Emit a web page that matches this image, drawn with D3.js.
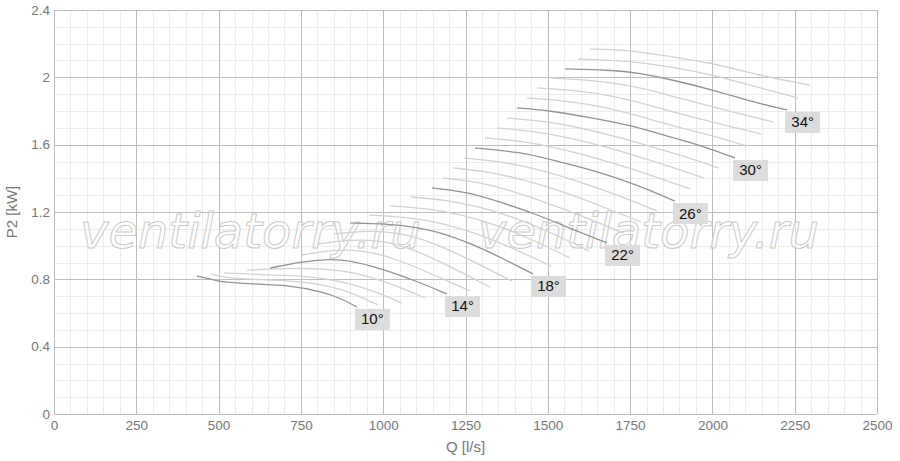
<!DOCTYPE html>
<html><head><meta charset="utf-8">
<script src="https://cdn.jsdelivr.net/npm/d3@7/dist/d3.min.js"></script>
<style>body{margin:0;background:#fff}svg{display:block}</style>
</head><body><svg id="c" width="900" height="461"></svg>
<script>
const xTicks = [0,250,500,750,1000,1250,1500,1750,2000,2250,2500];
const yTicks = [0,0.4,0.8,1.2,1.6,2,2.4];
const yTickLabels = ["0","0.4","0.8","1.2","1.6","2","2.4"];
const xTitle = "Q [l/s]";
const yTitle = "P2 [kW]";
const watermark = "ventilatorry.ru";
const labeledAngles = [10,14,18,22,26,30,34];

const a10 = [[434,0.82],[480,0.80],[510,0.784],[595,0.772],[717,0.766],[817,0.725],[869,0.689],[920,0.636]];
const a11 = [[477,0.832],[520,0.81],[600,0.80],[750,0.79],[870,0.75],[984,0.648]];
const a12 = [[516,0.838],[600,0.83],[700,0.825],[820,0.81],[950,0.75],[1057,0.659]];
const a13 = [[586,0.855],[700,0.865],[820,0.865],[920,0.84],[1030,0.77],[1127,0.689]];
const a14 = [[656,0.867],[750,0.905],[838,0.92],[890,0.915],[990,0.867],[1100,0.79],[1194,0.713]];
const a15 = [[753,0.945],[850,0.975],[930,0.975],[1030,0.93],[1150,0.83],[1264,0.731]];
const a16 = [[800,1.01],[900,1.035],[980,1.035],[1080,0.99],[1200,0.88],[1324,0.754]];
const a17 = [[850,1.07],[950,1.09],[1040,1.08],[1140,1.03],[1260,0.92],[1391,0.79]];
const a18 = [[900,1.135],[1000,1.13],[1051,1.123],[1151,1.093],[1255,1.022],[1355,0.933],[1455,0.832]];
const a19 = [[957,1.182],[1070,1.17],[1180,1.135],[1290,1.07],[1400,0.98],[1510,0.879]];
const a20 = [[1021,1.236],[1130,1.222],[1240,1.185],[1350,1.12],[1460,1.03],[1567,0.927]];
const a21 = [[1085,1.289],[1190,1.272],[1300,1.228],[1410,1.16],[1520,1.07],[1625,0.968]];
const a22 = [[1148,1.343],[1255,1.319],[1355,1.259],[1455,1.194],[1558,1.111],[1680,1.016]];
const a23 = [[1182,1.402],[1290,1.38],[1390,1.325],[1490,1.26],[1600,1.18],[1731,1.075]];
const a24 = [[1212,1.462],[1320,1.44],[1430,1.39],[1540,1.325],[1650,1.245],[1783,1.141]];
const a25 = [[1245,1.521],[1360,1.50],[1470,1.455],[1580,1.39],[1700,1.31],[1832,1.206]];
const a26 = [[1279,1.580],[1416,1.556],[1516,1.509],[1668,1.432],[1771,1.360],[1886,1.265]];
const a27 = [[1309,1.640],[1420,1.622],[1530,1.58],[1640,1.525],[1750,1.46],[1840,1.40],[1932,1.337]];
const a28 = [[1346,1.699],[1460,1.68],[1570,1.64],[1680,1.585],[1790,1.52],[1880,1.465],[1974,1.402]];
const a29 = [[1376,1.758],[1490,1.74],[1600,1.70],[1715,1.645],[1830,1.58],[1925,1.525],[2020,1.461]];
const a30 = [[1406,1.818],[1516,1.800],[1619,1.764],[1750,1.717],[1871,1.646],[1962,1.598],[2069,1.521]];
const a31 = [[1437,1.877],[1550,1.862],[1660,1.83],[1770,1.775],[1880,1.71],[1990,1.66],[2105,1.592]];
const a32 = [[1467,1.937],[1580,1.924],[1690,1.893],[1800,1.84],[1915,1.775],[2030,1.72],[2148,1.663]];
const a33 = [[1510,1.996],[1625,1.985],[1735,1.958],[1850,1.905],[1960,1.845],[2070,1.79],[2184,1.735]];
const a34 = [[1552,2.050],[1680,2.044],[1780,2.026],[1880,1.984],[2002,1.925],[2123,1.853],[2227,1.806]];
const a35 = [[1592,2.109],[1750,2.098],[1880,2.061],[2002,2.014],[2135,1.943],[2260,1.877]];
const a36 = [[1628,2.168],[1750,2.162],[1880,2.121],[2002,2.085],[2135,2.014],[2296,1.954]];

const curves = [
  {deg:10,pts:a10},{deg:11,pts:a11},{deg:12,pts:a12},{deg:13,pts:a13},{deg:14,pts:a14},
  {deg:15,pts:a15},{deg:16,pts:a16},{deg:17,pts:a17},{deg:18,pts:a18},{deg:19,pts:a19},
  {deg:20,pts:a20},{deg:21,pts:a21},{deg:22,pts:a22},{deg:23,pts:a23},{deg:24,pts:a24},
  {deg:25,pts:a25},{deg:26,pts:a26},{deg:27,pts:a27},{deg:28,pts:a28},{deg:29,pts:a29},
  {deg:30,pts:a30},{deg:31,pts:a31},{deg:32,pts:a32},{deg:33,pts:a33},{deg:34,pts:a34},
  {deg:35,pts:a35},{deg:36,pts:a36}
];

const L = 54, R = 877, T = 10, B = 414;
const x = d3.scaleLinear().domain([0,2500]).range([L,R]);
const y = d3.scaleLinear().domain([0,2.4]).range([B,T]);
const svg = d3.select("#c");

// minor grid
const g = svg.append("g");
g.selectAll("line.mx").data(d3.range(0,2501,50)).join("line")
  .attr("x1",d=>Math.round(x(d))+0.5).attr("x2",d=>Math.round(x(d))+0.5).attr("y1",T).attr("y2",B)
  .attr("stroke","#ececec").attr("stroke-width",1).attr("shape-rendering","crispEdges");
g.selectAll("line.my").data(d3.range(0,25).map(i=>i*0.1)).join("line")
  .attr("y1",d=>Math.round(y(d))+0.5).attr("y2",d=>Math.round(y(d))+0.5).attr("x1",L).attr("x2",R)
  .attr("stroke","#ececec").attr("stroke-width",1).attr("shape-rendering","crispEdges");
// major grid
g.selectAll("line.Mx").data(xTicks).join("line")
  .attr("x1",d=>Math.round(x(d))+0.5).attr("x2",d=>Math.round(x(d))+0.5).attr("y1",T).attr("y2",B)
  .attr("stroke","#bdbdbd").attr("stroke-width",1).attr("shape-rendering","crispEdges");
g.selectAll("line.My").data(yTicks).join("line")
  .attr("y1",d=>Math.round(y(d))+0.5).attr("y2",d=>Math.round(y(d))+0.5).attr("x1",L).attr("x2",R)
  .attr("stroke","#bdbdbd").attr("stroke-width",1).attr("shape-rendering","crispEdges");

// watermark
[80,478].forEach(px=>{
  svg.append("text").attr("x",px).attr("y",248).text(watermark)
    .attr("font-family","DejaVu Sans").attr("font-style","italic").attr("font-size",48)
    .attr("fill","#ffffff").attr("fill-opacity",0.55)
    .attr("stroke","#cbcbcb").attr("stroke-width",1);
});

// axes
const xAxis = d3.axisBottom(x).tickValues(xTicks).tickSize(0).tickPadding(6).tickFormat(d3.format("d"));
const yAxis = d3.axisLeft(y).tickValues(yTicks).tickSize(0).tickPadding(4).tickFormat((d,i)=>yTickLabels[i]);
const gx = svg.append("g").attr("transform",`translate(0,${B})`).call(xAxis);
const gy = svg.append("g").attr("transform",`translate(${L},0)`).call(yAxis);
[gx,gy].forEach(a=>{
  a.select(".domain").remove();
  a.selectAll("text").attr("font-family","Liberation Sans, Arial, sans-serif").attr("font-size",13.5).attr("fill","#777");
});

svg.append("text").attr("x",(L+R)/2).attr("y",452).attr("text-anchor","middle").text(xTitle)
  .attr("font-family","Liberation Sans, Arial, sans-serif").attr("font-size",15).attr("fill","#777");
svg.append("text").attr("transform",`translate(17,${(T+B)/2}) rotate(-90)`).attr("text-anchor","middle").text(yTitle)
  .attr("font-family","Liberation Sans, Arial, sans-serif").attr("font-size",15).attr("fill","#777");

// curves
const line = d3.line().x(d=>x(d[0])).y(d=>y(d[1])).curve(d3.curveBasis);
const light = curves.filter(c=>!labeledAngles.includes(c.deg));
const dark = curves.filter(c=>labeledAngles.includes(c.deg));
svg.append("g").selectAll("path").data(light).join("path")
  .attr("d",d=>line(d.pts)).attr("fill","none").attr("stroke","#d2d2d2").attr("stroke-width",1.3);
svg.append("g").selectAll("path").data(dark).join("path")
  .attr("d",d=>line(d.pts)).attr("fill","none").attr("stroke","#939393").attr("stroke-width",1.3);

// labels
const lg = svg.append("g").selectAll("g").data(dark).join("g")
  .attr("transform",d=>{const e=d.pts[d.pts.length-1];return `translate(${x(e[0])-2},${y(e[1])+2})`;});
lg.append("rect").attr("width",35).attr("height",21).attr("fill","#dcdcdc");
lg.append("text").attr("x",17.5).attr("y",15.5).attr("text-anchor","middle").text(d=>d.deg+"°")
  .attr("font-family","Liberation Sans, Arial, sans-serif").attr("font-size",15).attr("fill","#111");
</script></body></html>
